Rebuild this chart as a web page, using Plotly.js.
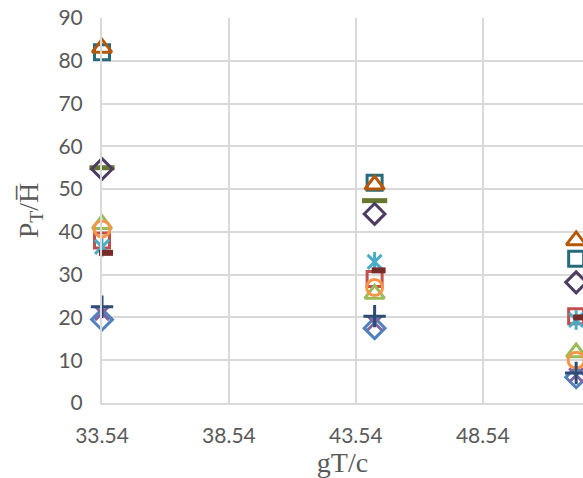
<!DOCTYPE html>
<html>
<head>
<meta charset="utf-8">
<script src="https://cdn.plot.ly/plotly-3.0.1.min.js"></script>
<style>html,body{margin:0;padding:0;background:#fff;}#chart{width:583px;height:478px;}</style>
</head>
<body>
<div id="chart"></div>
<script>
// x positions (gT/c)
const xValues = [33.54, 44.28, 52.22];
const xTickVals = [33.54, 38.54, 43.54, 48.54];
const xTickText = ["33.54", "38.54", "43.54", "48.54"];
const yTickVals = [0, 10, 20, 30, 40, 50, 60, 70, 80, 90];

// series values (P_T/H)
const s1BlueDiamond   = [19.5, 17.5, 6];
const s2RedSquare     = [38, 29, 20.3];
const s3GreenTriangle = [41.8, 25.5, 11.8];
const s4PurpleX       = [21, 18.7, 6.5];
const s5CyanStar      = [36.5, 33, 19.4];
const s6OrangeCircle  = [40.7, 27, 10];
const s7NavyPlus      = [22.5, 20.3, 7];
const s8DarkRedDash   = [35.1, 31, 20];
const s9OliveDash     = [55, 47.3, null];
const s10PurpleDiamond= [54.7, 44.2, 28.2];
const s11TealSquare   = [82, 51.5, 33.7];
const s12BrownTriangle= [83, 51, 38];

function tr(y, symbol, color, size, lw, extra) {
  return Object.assign({
    type: 'scatter', mode: 'markers', x: xValues, y: y,
    marker: {symbol: symbol, size: size, color: color, line: {color: color, width: lw}},
    hoverinfo: 'skip', showlegend: false, cliponaxis: false
  }, extra || {});
}

const data = [
  tr(s1BlueDiamond, 'diamond-open', '#4F81BD', 16, 3),
  tr(s2RedSquare, 'square-open', '#C0504D', 15, 3),
  tr(s3GreenTriangle, 'triangle-up-open', '#9BBB59', 17, 3),
  tr(s4PurpleX, 'x-thin-open', '#8064A2', 14, 3),
  tr(s5CyanStar, 'x-thin-open', '#4BACC6', 14, 3),
  tr(s5CyanStar, 'line-ns-open', '#4BACC6', 14, 3),
  tr(s6OrangeCircle, 'circle-open', '#F79646', 16, 3),
  tr(s7NavyPlus, 'cross-thin-open', '#2C4D75', 16, 3),
  tr(s9OliveDash, 'line-ew-open', '#66772F', 18, 5),
  tr(s10PurpleDiamond, 'diamond-open', '#4D3B62', 16, 3),
  tr(s11TealSquare, 'square-open', '#276A7C', 15, 3),
  tr(s12BrownTriangle, 'triangle-up-open', '#B65708', 17, 3),
  tr(s8DarkRedDash, 'line-ew-open', '#772C2A', 10, 6, {xaxis: 'x2'})
];

const xr = [33.54, 52.49];
const shift = 4 / (481 / (xr[1] - xr[0]));
const font = {family: 'Lato, "Open Sans", sans-serif', size: 21, color: '#595959'};
const titleFont = {family: '"Liberation Serif", "Times New Roman", serif', size: 28, color: '#595959'};
const layout = {
  width: 583, height: 478,
  margin: {l: 102, r: 0, t: 18, b: 75, pad: 0},
  paper_bgcolor: '#ffffff', plot_bgcolor: '#ffffff',
  showlegend: false,
  xaxis: {
    range: xr, tickmode: 'array', tickvals: xTickVals, ticktext: xTickText,
    showgrid: true, gridcolor: '#D9D9D9', gridwidth: 2, zeroline: false,
    showline: true, linecolor: '#D9D9D9', linewidth: 2,
    ticks: '', tickfont: font, ticklabelstandoff: 13,
    title: {text: 'gT/c', font: titleFont, standoff: 8}
  },
  xaxis2: {range: [xr[0] - shift, xr[1] - shift], overlaying: 'x', visible: false},
  yaxis: {
    range: [0, 90], tickmode: 'array', tickvals: yTickVals,
    showgrid: true, gridcolor: '#D9D9D9', gridwidth: 2, zeroline: false,
    showline: true, linecolor: '#D9D9D9', linewidth: 2,
    ticks: '', tickfont: font, ticklabelstandoff: 13,
    title: {text: 'P<sub>T</sub>/H\u0305', font: titleFont, standoff: 12}
  }
};
Plotly.newPlot('chart', data, layout, {staticPlot: true, displayModeBar: false});
</script>
</body>
</html>
